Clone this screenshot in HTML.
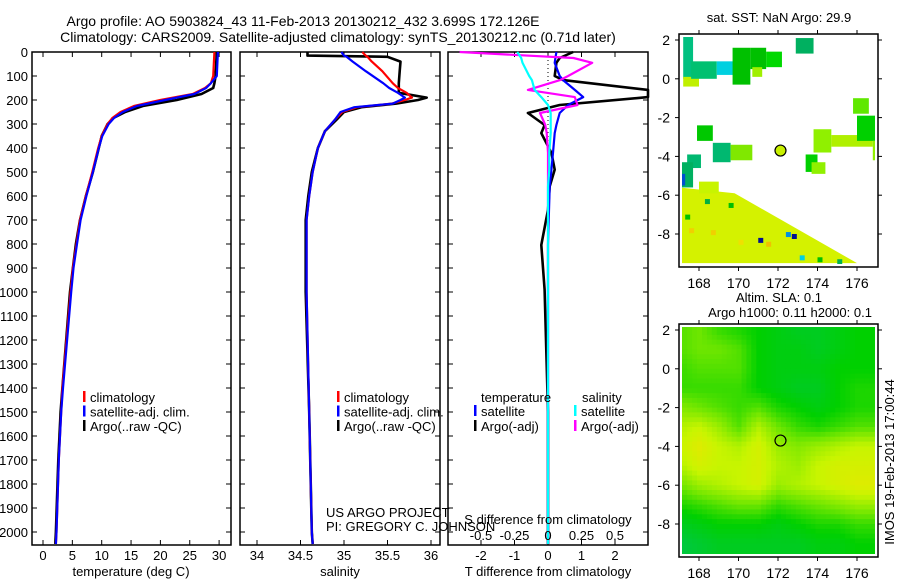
<!DOCTYPE html>
<html><head><meta charset="utf-8">
<style>
body{margin:0;background:#fff;}
svg{display:block;font-family:"Liberation Sans",sans-serif;}
</style></head>
<body>
<svg id="c" width="900" height="580" viewBox="0 0 900 580">
<rect x="0" y="0" width="900" height="580" fill="#fff"/>
<text x="303" y="26" font-size="14" text-anchor="middle">Argo profile: AO 5903824_43 11-Feb-2013 20130212_432 3.699S 172.126E</text>
<text x="338" y="42" font-size="14" text-anchor="middle">Climatology: CARS2009. Satellite-adjusted climatology: synTS_20130212.nc (0.71d later)</text>
<g id="g"></g>
</svg>
<script>
// ---- data ----
var depthT = [0,100,130,150,175,200,225,250,275,300,350,400,500,600,700,800,900,1000,1400,1500,1700,2000,2050];
var tempArgo = [29.6,29.4,29.2,29,27,22.8,17,14,12,11,10,9.5,8.5,7.3,6.3,5.6,5.1,4.6,3.3,3.0,2.6,2.2,2.1];
var tempClim = [29.2,29,28.6,27.6,25.5,20,15.5,13.2,11.8,11,10,9.4,8.4,7.3,6.3,5.7,5.1,4.7,3.3,3.1,2.7,2.3,2.2];
var tempSat = [29.8,29.6,28.6,27.8,25.8,20.8,16,13.6,12.1,11.2,10.1,9.5,8.5,7.4,6.4,5.8,5.2,4.8,3.4,3.1,2.7,2.3,2.2];
var depthS = [0,15,20,40,80,130,150,170,190,200,215,230,250,280,330,400,500,600,700,1000,1500,2000,2050];
var salArgo = [34.58,34.58,35.5,35.65,35.64,35.63,35.63,35.63,35.95,35.85,35.6,35.2,35.0,34.92,34.78,34.7,34.63,34.59,34.56,34.56,34.6,34.63,34.64];
var salClim = [35.21,35.25,35.27,35.32,35.44,35.56,35.62,35.72,35.78,35.7,35.55,35.15,34.98,34.9,34.78,34.7,34.64,34.6,34.57,34.57,34.6,34.63,34.64];
var salSat = [34.97,35.0,35.03,35.1,35.25,35.45,35.52,35.62,35.7,35.65,35.56,35.12,34.96,34.9,34.78,34.7,34.64,34.6,34.57,34.57,34.6,34.63,34.64];
var depthD = [0,25,45,100,117,158,188,221,254,304,338,420,490,560,658,804,990,1500,2050];
var tDiffArgo = [0.75,0.35,0.25,0.2,0.45,3.0,3.0,0.35,-0.6,-0.1,-0.2,0.1,0.2,0.05,0.0,-0.2,-0.1,0.0,0.0];
var tDiffSat = [0.25,0.22,0.2,0.35,0.45,0.8,1.05,0.6,0.35,0.25,0.2,0.15,0.1,0.05,0.03,0.0,0.0,0.0,0.0];
var sDiffArgo = [-0.66,0.19,0.33,0.15,0.09,-0.15,0.2,0.22,-0.06,-0.02,-0.01,0,0,0,0,0,0,0,0];
var sDiffSat = [-0.23,-0.2,-0.19,-0.14,-0.12,-0.1,-0.05,0.0,0.02,0.02,0.02,0.01,0.01,0.0,0.0,0.0,0.0,0.0,0.0];
var depthTicks = [0,100,200,300,400,500,600,700,800,900,1000,1100,1200,1300,1400,1500,1600,1700,1800,1900,2000];
var tempTicks = [0,5,10,15,20,25,30];
var salTicks = [34,34.5,35,35.5,36];
var tDiffTicks = [-2,-1,0,1,2];
var sDiffTicks = [-0.5,-0.25,0,0.25,0.5];
var sDiffLabels = ["-0.5","-0.25","0","0.25","0.5"];
var slaLats = [2,1,0,-1,-2,-3,-4,-5,-6,-7,-8,-9];
var slaLons = [167,168,169,170,171,172,173,174,175,176,177];
var slaGrid = [
[0.55,0.6,0.5,0.45,0.4,0.35,0.3,0.3,0.35,0.4,0.4],
[0.55,0.6,0.6,0.55,0.4,0.35,0.35,0.3,0.35,0.4,0.4],
[0.5,0.55,0.55,0.55,0.4,0.35,0.35,0.35,0.4,0.4,0.4],
[0.5,0.5,0.5,0.5,0.4,0.35,0.3,0.3,0.4,0.45,0.45],
[0.65,0.6,0.55,0.5,0.55,0.45,0.4,0.35,0.4,0.45,0.45],
[0.75,0.8,0.7,0.55,0.75,0.6,0.5,0.45,0.5,0.55,0.55],
[0.8,0.9,0.8,0.75,0.85,0.7,0.65,0.7,0.75,0.8,0.8],
[0.75,0.85,0.8,0.8,0.85,0.75,0.7,0.8,0.85,0.85,0.85],
[0.6,0.7,0.75,0.8,0.85,0.7,0.75,0.8,0.85,0.9,0.9],
[0.45,0.5,0.55,0.6,0.6,0.5,0.55,0.6,0.65,0.7,0.7],
[0.3,0.35,0.4,0.4,0.4,0.35,0.4,0.45,0.45,0.5,0.5],
[0.2,0.25,0.3,0.3,0.3,0.3,0.3,0.35,0.35,0.4,0.4]];
var sstPatches = [
[167.2,2.2,167.7,0,'#00c080'],[167.2,0.1,168,-0.4,'#c0f000'],[167.6,0.9,168.9,0,'#00c070'],
[168.9,0.9,170,0.2,'#00d0e0'],[169.7,1.6,170.6,-0.3,'#00c000'],[170.6,1.6,171.4,0.5,'#00c000'],
[171.4,1.4,172.2,0.6,'#00d800'],[170.7,0.6,171.2,0.1,'#a0f000'],[172.9,2.1,173.8,1.3,'#00b060'],
[167.9,-2.4,168.7,-3.2,'#00c800'],[168.7,-3.3,169.6,-4.3,'#00b870'],[169.6,-3.4,170.7,-4.2,'#80e800'],
[167.4,-3.9,168.1,-4.6,'#00b870'],[167,-4.3,167.7,-5.6,'#00b060'],[167,-4.9,167.3,-5.5,'#0050d0'],
[173.8,-2.6,174.7,-3.8,'#90f000'],[174.7,-2.9,176.8,-3.5,'#b0f000'],[175.8,-1,176.6,-1.8,'#60e800'],
[176,-1.9,177.1,-3.2,'#00d000'],[176.8,-3.2,177.1,-4.2,'#90f000'],[173.4,-3.9,174,-4.8,'#00d000'],
[173.7,-4.3,174.4,-4.9,'#90f000'],[168,-5.3,169,-5.9,'#c8f400']];
var sstTriangle = [[167,-5.6],[169.8,-5.9],[176,-9.5],[167,-9.5]];
var sstSpots = [[171,-8.2,'#001090'],[172.7,-8,'#001090'],[172.4,-7.9,'#0090e0'],[167.3,-7,'#00c000'],[168.3,-6.2,'#00b040'],[169.5,-6.4,'#00c000'],[170,-8.3,'#f0e000'],[167.5,-7.7,'#f0d000'],[173.1,-9.1,'#00d0e0'],[174,-9.2,'#00c000'],[175,-9.3,'#00b050'],[168.6,-7.8,'#f0d000'],[171.4,-8.4,'#f0c000']];
var argoLon = 172.126, argoLat = -3.699;

// ---- helpers ----
var NS="http://www.w3.org/2000/svg", G=document.getElementById('g');
function el(t,a,p){var e=document.createElementNS(NS,t);for(var k in a)e.setAttribute(k,a[k]);(p||G).appendChild(e);return e;}
function yD(d){return 52+d*0.24;}
var P1={x0:32,x1:231},P2={x0:240,x1:440},P3={x0:448,x1:648},YB=545;
function xT(t){return 43+t*5.87;}
function xS(s){return 257+(s-34)*87;}
function xTD(d){return 548+d*33.5;}
function xSD(s){return 548+s*134;}
function clampX(x,P){return Math.max(P.x0,Math.min(P.x1,x));}
function line(xs,ds,fx,P,col,w,name){
  var pts=ds.map(function(d,i){return clampX(fx(xs[i]),P).toFixed(1)+','+yD(d).toFixed(1);}).join(' ');
  var e=el('polyline',{points:pts,fill:'none',stroke:col,'stroke-width':w,'stroke-linejoin':'round'});
  
  
}
function txt(x,y,s,opt,name){var e=el('text',Object.assign({x:x,y:y,'font-size':13},opt||{}));e.textContent=s;
  
  return e;}
function frame(P,name){
  var r=el('rect',{x:P.x0,y:52,width:P.x1-P.x0,height:YB-52,fill:'none',stroke:'#000','stroke-width':1.5});
  
  
  depthTicks.forEach(function(d){
    el('line',{x1:P.x0,x2:P.x0+5,y1:yD(d),y2:yD(d),stroke:'#000'});
    el('line',{x1:P.x1,x2:P.x1-5,y1:yD(d),y2:yD(d),stroke:'#000'});
  });
}
function xticks(ticks,fx,P){ticks.forEach(function(t){var x=fx(t);
  el('line',{x1:x,x2:x,y1:52,y2:57,stroke:'#000'});el('line',{x1:x,x2:x,y1:YB,y2:YB-5,stroke:'#000'});});}

depthTicks.forEach(function(d){txt(28,yD(d)+5,String(d),{'text-anchor':'end'},'depth-tick-label');});

// panel 1
frame(P1,'temperature-panel');xticks(tempTicks,xT,P1);
tempTicks.forEach(function(t){txt(xT(t),560,String(t),{'text-anchor':'middle'},'temperature-tick-label');});
txt(131,576,'temperature (deg C)',{'text-anchor':'middle'},'temperature-axis-title');
line(tempArgo,depthT,xT,P1,'#000',2.6,'temp-argo-line');
line(tempClim,depthT,xT,P1,'#f00',2.2,'temp-climatology-line');
line(tempSat,depthT,xT,P1,'#00f',2.2,'temp-satellite-line');
// panel 2
frame(P2,'salinity-panel');xticks(salTicks,xS,P2);
salTicks.forEach(function(t){txt(xS(t),560,String(t),{'text-anchor':'middle'},'salinity-tick-label');});
txt(340,576,'salinity',{'text-anchor':'middle'},'salinity-axis-title');
line(salArgo,depthS,xS,P2,'#000',2.6,'sal-argo-line');
line(salClim,depthS,xS,P2,'#f00',2.2,'sal-climatology-line');
line(salSat,depthS,xS,P2,'#00f',2.2,'sal-satellite-line');
// panel 3
frame(P3,'difference-panel');xticks(tDiffTicks,xTD,P3);
el('line',{x1:548,x2:548,y1:52,y2:200,stroke:'#000','stroke-dasharray':'1,3'});
line(tDiffArgo,depthD,xTD,P3,'#000',2.6,'tdiff-argo-line');
line(tDiffSat,depthD,xTD,P3,'#00f',2.2,'tdiff-satellite-line');
line(sDiffArgo,depthD,xSD,P3,'#f0f',2.2,'sdiff-argo-line');
line(sDiffSat,depthD,xSD,P3,'#0ff',2.2,'sdiff-satellite-line');
tDiffTicks.forEach(function(t){txt(xTD(t),560,String(t),{'text-anchor':'middle'},'tdiff-tick-label');});
sDiffTicks.forEach(function(t,i){txt(xSD(t),540,sDiffLabels[i],{'text-anchor':'middle'},'sdiff-tick-label');});
txt(548,524,'S difference from climatology',{'text-anchor':'middle'},'sdiff-axis-title');
txt(548,576,'T difference from climatology',{'text-anchor':'middle'},'tdiff-axis-title');
txt(326,517,'US ARGO PROJECT',{},'project-label');
txt(326,531,'PI: GREGORY C. JOHNSON',{},'pi-label');

// legends
function leg(x,y,col,s,name){var r=el('rect',{x:x,y:y-11,width:2.5,height:11,fill:col});
  
  
  txt(x+7,y,s,{},name);}
[[83,'climatology','#f00'],[83,'satellite-adj. clim.','#00f'],[83,"Argo(..raw -QC)",'#000']].forEach(function(l,i){leg(l[0],402+i*14.5,l[2],l[1],'legend-entry');});
[[337,'climatology','#f00'],[337,'satellite-adj. clim.','#00f'],[337,"Argo(..raw -QC)",'#000']].forEach(function(l,i){leg(l[0],402+i*14.5,l[2],l[1],'legend-entry');});
txt(481,402,'temperature',{},'legend-heading-temperature');
txt(582,402,'salinity',{},'legend-heading-salinity');
leg(474,416,'#00f','satellite','legend-entry');leg(474,431,'#000','Argo(-adj)','legend-entry');
leg(574,416,'#0ff','satellite','legend-entry');leg(574,431,'#f0f','Argo(-adj)','legend-entry');

// ---- maps ----
function mapAxes(M,name){
  var r=el('rect',{x:M.x0,y:M.y0,width:M.x1-M.x0,height:M.y1-M.y0,fill:'none',stroke:'#000','stroke-width':1.5});
  
  
  [168,170,172,174,176].forEach(function(l){var x=M.fx(l);
    el('line',{x1:x,x2:x,y1:M.y0,y2:M.y0-4,stroke:'#000'});el('line',{x1:x,x2:x,y1:M.y1,y2:M.y1+4,stroke:'#000'});
    txt(x,M.y1+21,String(l),{'text-anchor':'middle','font-size':14},'longitude-tick-label');});
  [2,0,-2,-4,-6,-8].forEach(function(l){var y=M.fy(l);
    el('line',{x1:M.x0,x2:M.x0-4,y1:y,y2:y,stroke:'#000'});el('line',{x1:M.x1,x2:M.x1+4,y1:y,y2:y,stroke:'#000'});
    txt(M.x0-9,y+5,String(l),{'text-anchor':'end','font-size':14},'latitude-tick-label');});
}
function mk(y0,y1,lat2y){return {x0:679,x1:878,y0:y0,y1:y1,fx:function(l){return 699+(l-168)*19.75;},fy:function(l){return lat2y+(2-l)*19.4;}};}
var M1=mk(34,267,40), M2=mk(324,557,330);
// SST map
var cp1=el('clipPath',{id:'cp1'});el('rect',{x:682,y:37,width:193,height:227},cp1);
var g1=el('g',{'clip-path':'url(#cp1)'});


var tri=el('polygon',{points:sstTriangle.map(function(p){return M1.fx(p[0])+','+M1.fy(p[1]);}).join(' '),fill:'#d4f200'},g1);


sstPatches.forEach(function(p){var e=el('rect',{x:M1.fx(p[0]),y:M1.fy(p[1]),width:M1.fx(p[2])-M1.fx(p[0]),height:M1.fy(p[3])-M1.fy(p[1]),fill:p[4]},g1);
  
  });
sstSpots.forEach(function(p){var e=el('rect',{x:M1.fx(p[0]),y:M1.fy(p[1]),width:5,height:5,fill:p[2]},g1);
  
  });
mapAxes(M1,'sst-map');
txt(779,22,'sat. SST: NaN  Argo: 29.9',{'text-anchor':'middle'},'sst-map-title');
var c1=el('circle',{cx:M1.fx(argoLon),cy:M1.fy(argoLat),r:5.5,fill:'#c8f000',stroke:'#000','stroke-width':1.2});


// SLA map (bilinear-smoothed display of the grid)
function slaColor(v){var c=[[0,[0,192,128]],[0.4,[0,208,0]],[0.6,[110,230,0]],[0.8,[200,245,0]],[1,[245,225,0]]];
  for(var i=1;i<c.length;i++){if(v<=c[i][0]){var t=(v-c[i-1][0])/(c[i][0]-c[i-1][0]);
    return 'rgb('+c[i-1][1].map(function(a,k){return Math.round(a+(c[i][1][k]-a)*t);}).join(',')+')';}}return 'rgb(245,225,0)';}
function slaAt(lo,la){
  var fi=(slaLats[0]-la), fj=(lo-slaLons[0]);
  fi=Math.max(0,Math.min(slaLats.length-1.001,fi)); fj=Math.max(0,Math.min(slaLons.length-1.001,fj));
  var i=Math.floor(fi), j=Math.floor(fj), a=fi-i, b=fj-j;
  return slaGrid[i][j]*(1-a)*(1-b)+slaGrid[i+1][j]*a*(1-b)+slaGrid[i][j+1]*(1-a)*b+slaGrid[i+1][j+1]*a*b;
}
var cp2=el('clipPath',{id:'cp2'});el('rect',{x:682,y:327,width:193,height:227},cp2);
var g2=el('g',{'clip-path':'url(#cp2)'});


for(var la=2.5;la>-9.75;la-=0.25){for(var lo=166.9;lo<177.2;lo+=0.25){
  var e=el('rect',{x:M2.fx(lo).toFixed(1),y:M2.fy(la).toFixed(1),width:5.4,height:5.3,fill:slaColor(slaAt(lo+0.125,la-0.125))},g2);
  
  }}
mapAxes(M2,'sla-map');
txt(779,302,'Altim. SLA: 0.1',{'text-anchor':'middle'},'sla-map-title');
txt(790,317,'Argo h1000: 0.11 h2000: 0.1',{'text-anchor':'middle'},'sla-map-subtitle');
var c2=el('circle',{cx:M2.fx(argoLon),cy:M2.fy(argoLat),r:5.5,fill:'none',stroke:'#000','stroke-width':1.2});


txt(0,0,'IMOS 19-Feb-2013 17:00:44',{'text-anchor':'middle',transform:'translate(894,462) rotate(-90)'},'imos-timestamp');
</script>
</body></html>
